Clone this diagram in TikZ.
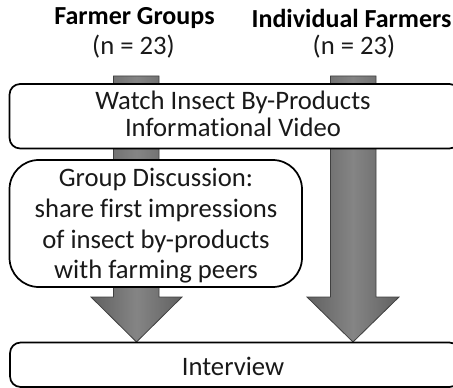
\documentclass[tikz,border=0pt]{standalone}
\usepackage{fontspec}
\setmainfont{Carlito}[Ligatures=NoCommon]
\begin{document}
\begin{tikzpicture}[x=0.75pt,y=-0.75pt,
  stagebox/.style={draw=black,line width=1.3pt,fill=white},
  blockarrow/.style={draw=black!75,line width=0.6pt,
    left color=black!62,right color=black!62,middle color=black!48},
  label/.style={font=\fontsize{20}{20.5}\selectfont,align=center,inner sep=0pt,text=black!90},
  head/.style={font=\fontsize{19.5}{22}\selectfont\bfseries,align=center,inner sep=0pt}]
\useasboundingbox (0,0) rectangle (453,388);
\clip (0,0) rectangle (453,388);

% column headings
\node[head] (hgroups) at (134.5,18) {Farmer Groups};
\node[label] (ngroups) at (133.5,47) {(n = 23)};
\node[head] (hsingle) at (351.5,18) {Individual Farmers};
\node[label] (nsingle) at (354,47) {(n = 23)};

% block arrows running behind the stages
\coordinate (ltip) at (136.5,342);
\coordinate (rtip) at (353,342);
\path[blockarrow] (113.5,76) -- (159,76) -- (159,297) -- (182,297) -- (ltip)
  -- (91,297) -- (113.5,297) -- cycle;
\path[blockarrow] (330.5,76) -- (376,76) -- (376,297) -- (399,297) -- (rtip)
  -- (307,297) -- (330.5,297) -- cycle;

% stages
\draw[stagebox,rounded corners=8] (9.5,84) rectangle (460,148.5);
\node[label] (video) at (233,114) {Watch Insect By-Products\\Informational Video};

\draw[stagebox,rounded corners=22] (9.5,160) rectangle (302,287);
\node[label,font=\fontsize{20}{23}\selectfont] (discuss) at (156,226)
  {Group Discussion:\\share first impressions\\of insect by-products\\with farming peers};

\draw[stagebox,rounded corners=8] (10,342.5) rectangle (460,387);
\node[label] (interview) at (233,366) {Interview};
\end{tikzpicture}
\end{document}
